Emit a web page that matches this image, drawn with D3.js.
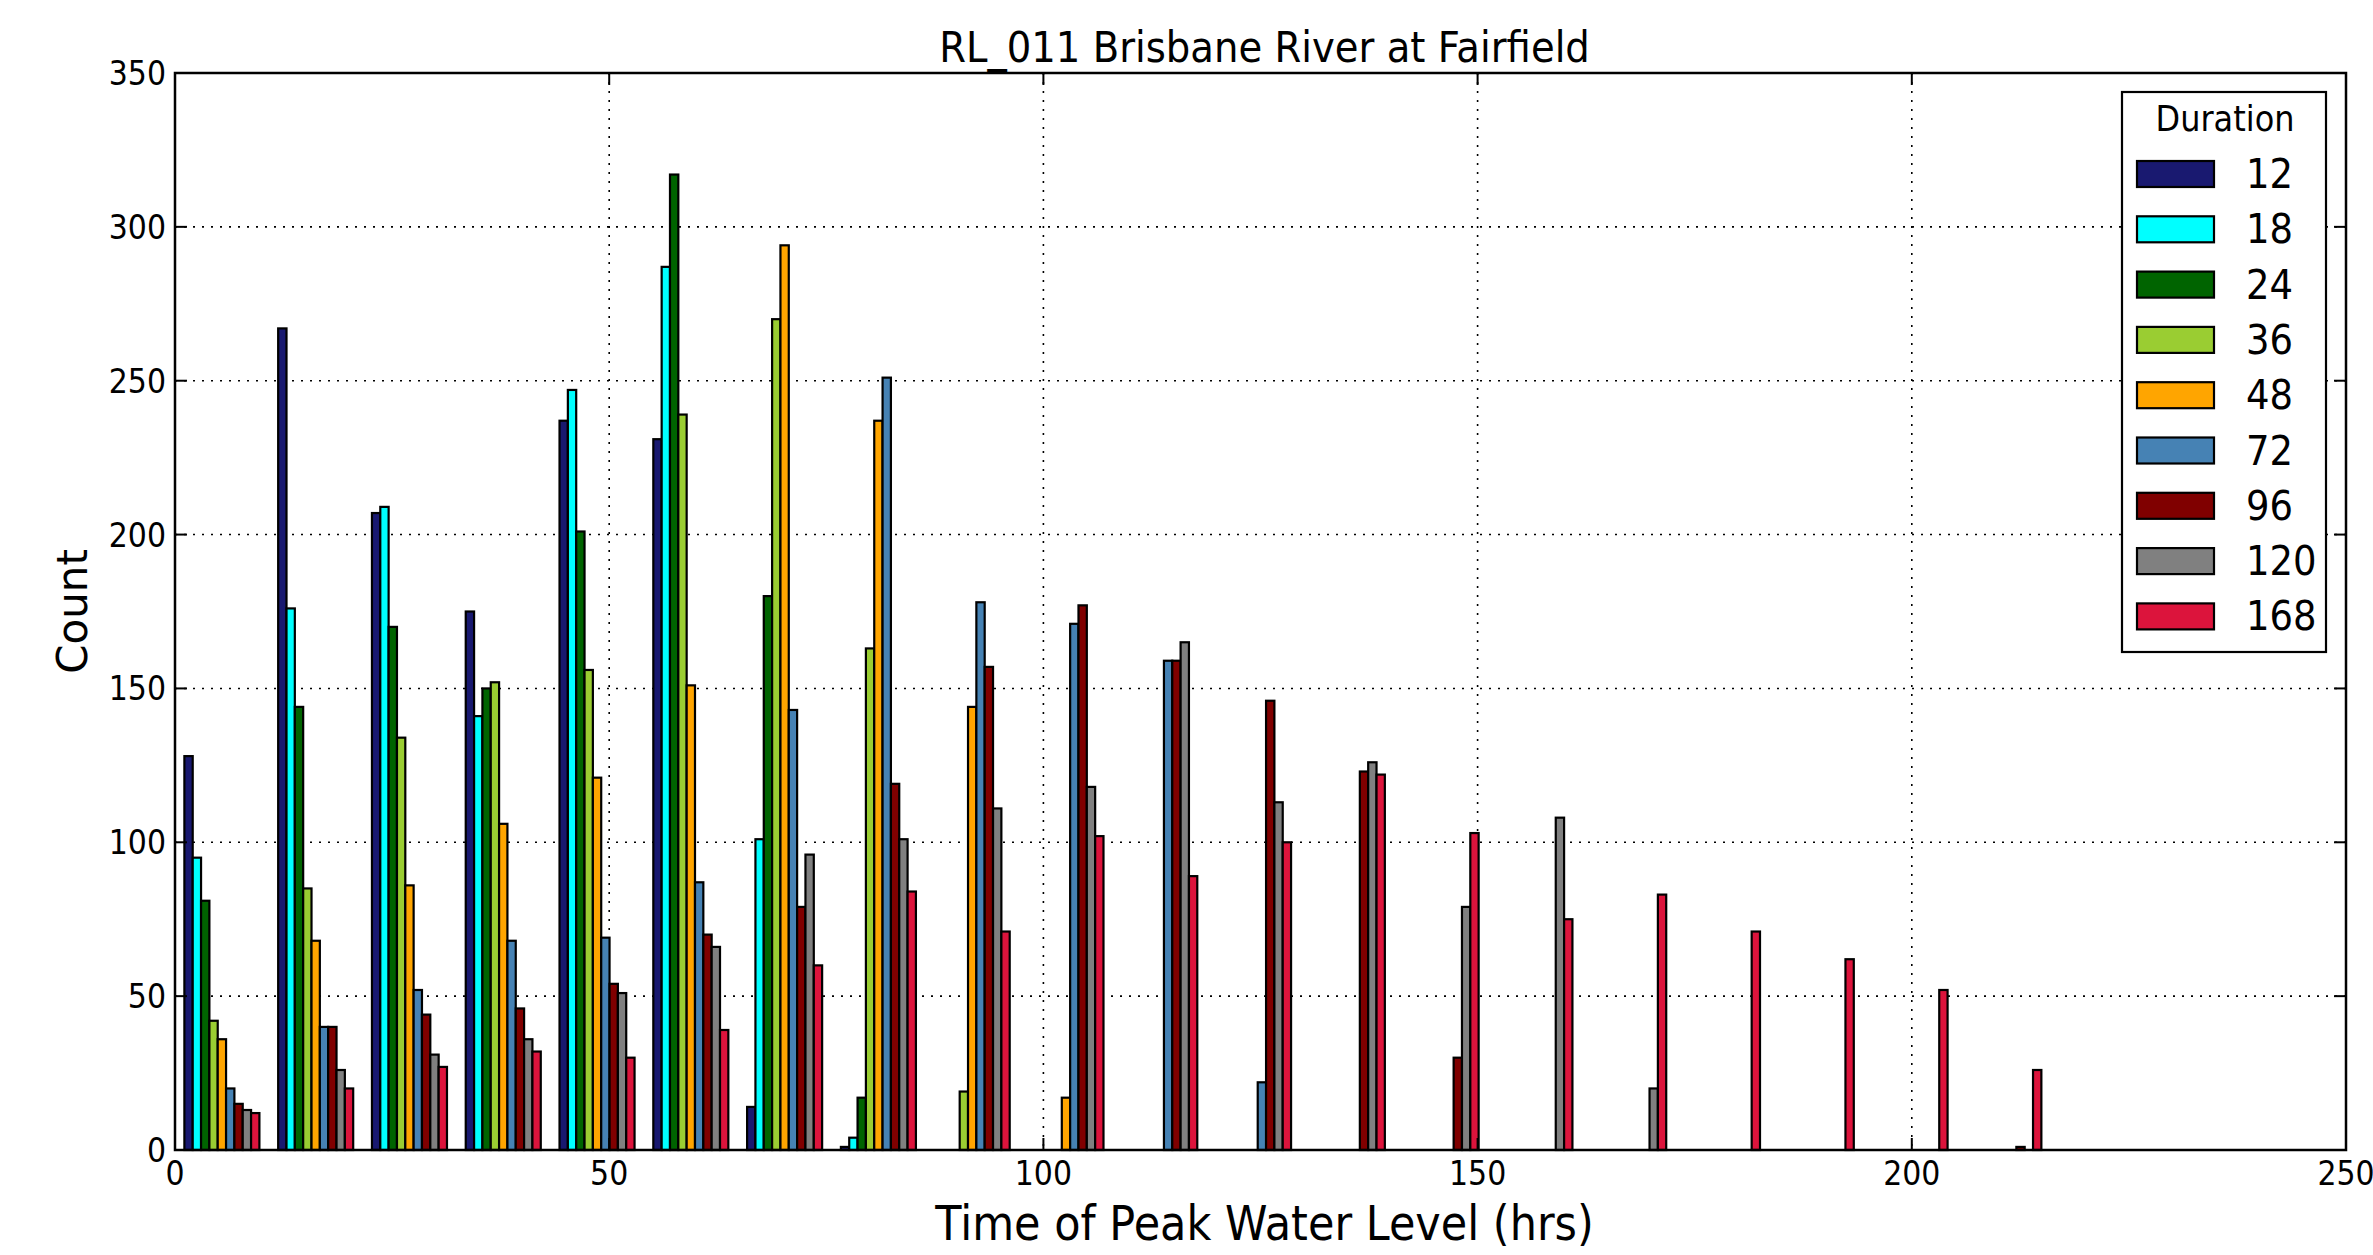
<!DOCTYPE html>
<html>
<head>
<meta charset="utf-8">
<script src="https://cdn.jsdelivr.net/npm/d3@7"></script>
<style>
body { margin: 0; background: #fff; }
text { font-family: "DejaVu Sans", sans-serif; }
</style>
</head>
<body>
<script>
var w = 2373;
var h = 1255;

// histogram bins (hrs)
var binStart = 0;
var binWidth = 10.8;
var nBins = 20;

var durations = ["12", "18", "24", "36", "48", "72", "96", "120", "168"];
var colors = ["#191970", "#00ffff", "#006400", "#9acd32", "#ffa500", "#4682b4", "#800000", "#808080", "#dc143c"];

// counts per bin, one list per duration
var d12  = [128, 267, 207, 175, 237, 231, 14, 1, 0, 0, 0, 0, 0, 0, 0, 0, 0, 0, 0, 0];
var d18  = [95, 176, 209, 141, 247, 287, 101, 4, 0, 0, 0, 0, 0, 0, 0, 0, 0, 0, 0, 0];
var d24  = [81, 144, 170, 150, 201, 317, 180, 17, 0, 0, 0, 0, 0, 0, 0, 0, 0, 0, 0, 0];
var d36  = [42, 85, 134, 152, 156, 239, 270, 163, 19, 0, 0, 0, 0, 0, 0, 0, 0, 0, 0, 0];
var d48  = [36, 68, 86, 106, 121, 151, 294, 237, 144, 17, 0, 0, 0, 0, 0, 0, 0, 0, 0, 0];
var d72  = [20, 40, 52, 68, 69, 87, 143, 251, 178, 171, 159, 22, 0, 0, 0, 0, 0, 0, 0, 0];
var d96  = [15, 40, 44, 46, 54, 70, 79, 119, 157, 177, 159, 146, 123, 30, 0, 0, 0, 0, 0, 1];
var d120 = [13, 26, 31, 36, 51, 66, 96, 101, 111, 118, 165, 113, 126, 79, 108, 20, 0, 0, 0, 0];
var d168 = [12, 20, 27, 32, 30, 39, 60, 84, 71, 102, 89, 100, 122, 103, 75, 83, 71, 62, 52, 26];
var counts = [d12, d18, d24, d36, d48, d72, d96, d120, d168];

var xTicks = [0, 50, 100, 150, 200, 250];
var yTicks = [0, 50, 100, 150, 200, 250, 300, 350];

// plot area
var lp = 175, rp = 2346, up = 73, bp = 1150;
var sy = 1.12; // text in the source looks a bit taller than plain DejaVu

var x = d3.scaleLinear().domain([0, 250]).range([lp, rp]);
var y = d3.scaleLinear().domain([0, 350]).range([bp, up]);

var svg = d3.select("body").append("svg")
            .attr("width", w)
            .attr("height", h);

// text placed by translate so it can be stretched a little vertically
function label(parent, tx, ty, str, size, anchor) {
    return parent.append("text")
        .attr("transform", "translate(" + tx + "," + ty + ") scale(1," + sy + ")")
        .attr("text-anchor", anchor)
        .attr("font-size", size)
        .text(str);
}

// grid (dotted like the old matplotlib style)
var grid = svg.append("g").attr("id", "grid");
grid.selectAll("line.gx")
    .data(xTicks.slice(1, -1))
    .enter().append("line")
    .attr("x1", function(d){ return x(d); })
    .attr("x2", function(d){ return x(d); })
    .attr("y1", up).attr("y2", bp)
    .attr("stroke", "#000").attr("stroke-width", 1.6)
    .attr("stroke-dasharray", "2,7");
grid.selectAll("line.gy")
    .data(yTicks.slice(1, -1))
    .enter().append("line")
    .attr("y1", function(d){ return y(d); })
    .attr("y2", function(d){ return y(d); })
    .attr("x1", lp).attr("x2", rp)
    .attr("stroke", "#000").attr("stroke-width", 1.6)
    .attr("stroke-dasharray", "2,7");

// bars: each bin holds 9 bars inside the middle 80% of the bin
var barW = 0.8 * binWidth / durations.length;
var bars = [];
for (var k = 0; k < durations.length; k++) {
    for (var i = 0; i < nBins; i++) {
        bars.push({k: k, x0: binStart + i*binWidth + 0.1*binWidth + k*barW, v: counts[k][i]});
    }
}

svg.append("g").attr("id", "bars")
    .selectAll("rect")
    .data(bars)
    .enter().append("rect")
    .attr("x", function(d){ return x(d.x0); })
    .attr("y", function(d){ return y(d.v); })
    .attr("width", function(d){ return x(d.x0 + barW) - x(d.x0); })
    .attr("height", function(d){ return y(0) - y(d.v); })
    .attr("fill", function(d){ return colors[d.k]; })
    .attr("stroke", "#000")
    .attr("stroke-width", 2.2);

// frame
svg.append("rect")
    .attr("x", lp).attr("y", up)
    .attr("width", rp - lp).attr("height", bp - up)
    .attr("fill", "none").attr("stroke", "#000").attr("stroke-width", 2.5);

// inward ticks on all four sides
var tl = 12;
var ticks = svg.append("g").attr("id", "ticks").attr("stroke", "#000").attr("stroke-width", 2);
xTicks.forEach(function(t){
    ticks.append("line").attr("x1", x(t)).attr("x2", x(t)).attr("y1", bp).attr("y2", bp - tl);
    ticks.append("line").attr("x1", x(t)).attr("x2", x(t)).attr("y1", up).attr("y2", up + tl);
});
yTicks.forEach(function(t){
    ticks.append("line").attr("y1", y(t)).attr("y2", y(t)).attr("x1", lp).attr("x2", lp + tl);
    ticks.append("line").attr("y1", y(t)).attr("y2", y(t)).attr("x1", rp).attr("x2", rp - tl);
});

// tick labels
var tickLabels = svg.append("g").attr("id", "tick-labels");
xTicks.forEach(function(t){
    label(tickLabels, x(t), 1185, t, 30, "middle");
});
yTicks.forEach(function(t){
    label(tickLabels, 166, y(t) + 12, t, 30, "end");
});

// title + axis labels
label(svg, (lp + rp)/2 + 4, 62, "RL_011 Brisbane River at Fairfield", 38.6, "middle");
label(svg, (lp + rp)/2 + 4, 1240, "Time of Peak Water Level (hrs)", 43, "middle");

svg.append("text")
    .attr("transform", "translate(87," + ((up + bp)/2) + ") rotate(-90)")
    .attr("text-anchor", "middle").attr("font-size", 42)
    .text("Count");

// legend
var lg = svg.append("g").attr("id", "legend");
lg.append("rect")
    .attr("x", 2122).attr("y", 92)
    .attr("width", 204).attr("height", 560)
    .attr("fill", "#fff").attr("stroke", "#000").attr("stroke-width", 2.2);
label(lg, 2225, 131, "Duration", 32, "start").attr("text-anchor", "middle");

durations.forEach(function(d, i){
    var cy = 174 + i*55.3;
    lg.append("rect")
        .attr("x", 2137).attr("y", cy - 13)
        .attr("width", 77).attr("height", 26)
        .attr("fill", colors[i])
        .attr("stroke", "#000").attr("stroke-width", 2.2);
    label(lg, 2246, cy + 14, d, 37, "start");
});
</script>
</body>
</html>
